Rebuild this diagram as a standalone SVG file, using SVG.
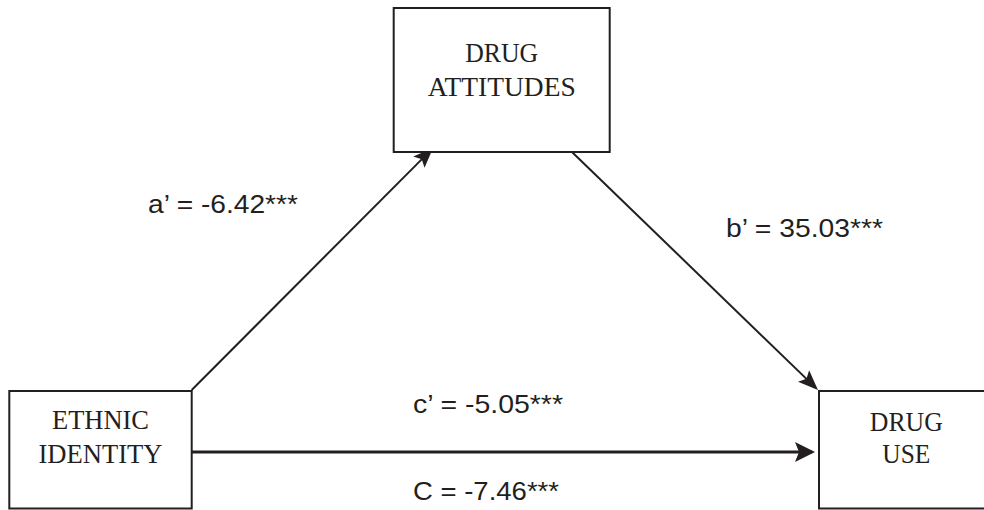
<svg xmlns="http://www.w3.org/2000/svg" width="984" height="510" viewBox="0 0 984 510">
<style>
.box{fill:#fff;stroke:#231f20;stroke-width:2}
.node{font-family:"Liberation Serif","Times New Roman",serif;font-size:28px;fill:#231f20;text-anchor:middle}
.lbl{font-family:"Liberation Sans",Arial,sans-serif;font-size:26px;fill:#231f20}
.edge{stroke:#231f20;fill:none}
</style>
<defs>
<marker id="arrS" markerUnits="userSpaceOnUse" viewBox="-1 -10 22 20" markerWidth="22" markerHeight="20" refX="17" refY="0" orient="auto">
<path d="M0,-8 L20,0 L0,8 L4,0 z" fill="#231f20"/>
</marker>
<marker id="arrL" markerUnits="userSpaceOnUse" viewBox="-1 -12 22 24" markerWidth="22" markerHeight="24" refX="17" refY="0" orient="auto">
<path d="M0,-10 L20,0 L0,10 L4,0 z" fill="#231f20"/>
</marker>
</defs>
<rect width="984" height="510" fill="#fff"/>
<g id="connectors">
<line class="edge" x1="191.7" y1="390" x2="430.9" y2="150.1" stroke-width="2" marker-end="url(#arrS)"/>
<line class="edge" x1="571.7" y1="151.7" x2="815.8" y2="387.9" stroke-width="2" marker-end="url(#arrS)"/>
<line class="edge" x1="192" y1="452" x2="812" y2="452" stroke-width="3" marker-end="url(#arrL)"/>
</g>
<g id="node-attitudes">
<rect class="box" x="393.7" y="8" width="216" height="144"/>
<text class="node" x="501.7" y="62" textLength="73" lengthAdjust="spacingAndGlyphs">DRUG</text>
<text class="node" x="501.7" y="96" textLength="148" lengthAdjust="spacingAndGlyphs">ATTITUDES</text>
</g>
<g id="node-ethnic">
<rect class="box" x="9.3" y="391" width="182.4" height="117.5"/>
<text class="node" x="100.5" y="429" textLength="97" lengthAdjust="spacingAndGlyphs">ETHNIC</text>
<text class="node" x="100.5" y="463" textLength="124" lengthAdjust="spacingAndGlyphs">IDENTITY</text>
</g>
<g id="node-druguse">
<rect class="box" x="819" y="391" width="180" height="117.5"/>
<text class="node" x="906.3" y="431" textLength="73" lengthAdjust="spacingAndGlyphs">DRUG</text>
<text class="node" x="906.3" y="463" textLength="48" lengthAdjust="spacingAndGlyphs">USE</text>
</g>
<g id="labels">
<text class="lbl" x="148" y="213" textLength="150" lengthAdjust="spacingAndGlyphs">a’ = -6.42***</text>
<text class="lbl" x="726" y="237" textLength="157" lengthAdjust="spacingAndGlyphs">b’ = 35.03***</text>
<text class="lbl" x="413" y="413" textLength="150" lengthAdjust="spacingAndGlyphs">c’ = -5.05***</text>
<text class="lbl" x="413" y="500" textLength="146" lengthAdjust="spacingAndGlyphs">C = -7.46***</text>
</g>
</svg>
